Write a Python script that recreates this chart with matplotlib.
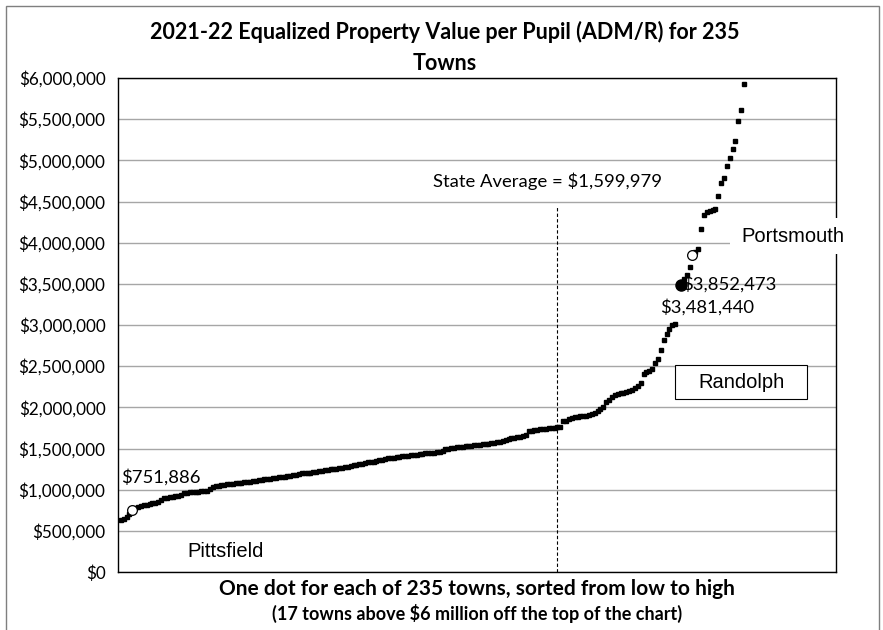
import matplotlib
matplotlib.use("Agg")
import matplotlib.pyplot as plt
from matplotlib.patches import Rectangle
from matplotlib.ticker import FuncFormatter, MultipleLocator

# value per pupil, in thousands of dollars, sorted low to high
# (only the 218 towns under $6 million are shown; 17 more are off the top)
values_k = [
    632, 644, 668, 705, 751.886, 777, 790, 800, 808, 814,
    822, 832, 842, 850, 870, 895, 903, 910, 916, 922,
    928, 940, 955, 962, 966, 970, 972, 975, 978, 981,
    984, 1008, 1035, 1045, 1050, 1055, 1060, 1066, 1070, 1074,
    1077, 1080, 1084, 1088, 1092, 1096, 1102, 1108, 1113, 1118,
    1124, 1130, 1135, 1140, 1145, 1150, 1154, 1159, 1164, 1170,
    1175, 1180, 1190, 1200, 1202, 1204, 1206, 1212, 1220, 1226,
    1232, 1238, 1243, 1248, 1252, 1257, 1262, 1268, 1274, 1280,
    1287, 1294, 1300, 1308, 1316, 1324, 1330, 1336, 1342, 1350,
    1358, 1366, 1374, 1382, 1386, 1390, 1395, 1400, 1405, 1410,
    1414, 1418, 1422, 1427, 1432, 1436, 1440, 1444, 1448, 1451,
    1454, 1457, 1475, 1494, 1500, 1505, 1510, 1514, 1518, 1522,
    1526, 1530, 1534, 1538, 1542, 1546, 1550, 1554, 1558, 1562,
    1567, 1575, 1585, 1595, 1605, 1615, 1625, 1632, 1638, 1644,
    1650, 1660, 1710, 1718, 1724, 1728, 1733, 1738, 1742, 1746,
    1750, 1754, 1760, 1765, 1830, 1840, 1855, 1870, 1880, 1886,
    1890, 1895, 1900, 1905, 1925, 1935, 1950, 1975, 2005, 2070,
    2095, 2120, 2150, 2165, 2172, 2180, 2186, 2200, 2215, 2235,
    2260, 2296, 2410, 2430, 2445, 2470, 2535, 2590, 2700, 2815,
    2890, 2950, 3000, 3010, 3250, 3481.440, 3560, 3607, 3705, 3852.473,
    3890, 3923, 4166, 4336, 4373, 4390, 4400, 4409, 4567, 4725,
    4786, 4932, 5029, 5138, 5235, 5478, 5612, 5927,
]
values = [v * 1000 for v in values_k]
rank = list(range(1, len(values) + 1))

pittsfield_rank, pittsfield_val = 5, 751886
randolph_rank, randolph_val = 196, 3481440
portsmouth_rank, portsmouth_val = 200, 3852473
state_avg = 1599979
avg_line_rank = 153
avg_line_top = 4430000

calibri = ["Lato", "DejaVu Sans"]
arial = ["Liberation Sans", "DejaVu Sans"]

W, H = 883, 630
fig = plt.figure(figsize=(W / 100, H / 100), dpi=100)
fig.patches.append(Rectangle((6 / W, -0.01), 873 / W, 1 - 6 / H + 0.01,
                             transform=fig.transFigure, fill=False,
                             edgecolor="#7f7f7f", lw=1))
ax = fig.add_axes([118 / W, 1 - 572 / H, 718 / W, 494 / H])

ax.plot(rank, values, "s", color="black", ms=2.2, mec="black", zorder=3)
ax.plot(pittsfield_rank, pittsfield_val, "o", ms=7, mfc="white", mec="black", mew=0.9, zorder=4)
ax.plot(portsmouth_rank, portsmouth_val, "o", ms=7, mfc="white", mec="black", mew=0.9, zorder=4)
ax.plot(randolph_rank, randolph_val, "o", ms=8, color="black", zorder=4)
ax.plot([avg_line_rank, avg_line_rank], [0, avg_line_top], color="black",
        lw=0.8, ls=(0, (3, 2)), zorder=2)

ax.set_xlim(0, 250)
ax.set_ylim(0, 6000000)
ax.yaxis.set_major_locator(MultipleLocator(500000))
ax.yaxis.set_major_formatter(FuncFormatter(lambda v, p: "${:,.0f}".format(v)))
ax.grid(axis="y", color="#a6a6a6", lw=1)
ax.set_axisbelow(True)
ax.set_xticks([])
ax.tick_params(axis="y", length=0, pad=9)
for lab in ax.get_yticklabels():
    lab.set_family(calibri)
    lab.set_fontsize(12.3)
for s in ax.spines.values():
    s.set_color("black")
    s.set_linewidth(1)

ax.text(pittsfield_rank - 4, 1150000, "$751,886", family=calibri,
        fontsize=13.3, va="center", ha="left")
ax.text(24, 255000, "Pittsfield", family=arial, fontsize=14.5, va="center", ha="left")
ax.text(109.7, 4750000, "State Average = ${:,}".format(state_avg),
        family=calibri, fontsize=13.3, va="center", ha="left")
ax.text(randolph_rank + 0.5, 3500000, "$3,852,473", family=calibri,
        fontsize=13.3, va="center", ha="left", zorder=3)
ax.text(188.7, 3220000, "$3,481,440", family=calibri, fontsize=13.3, va="center",
        ha="left", zorder=5, bbox=dict(fc="white", ec="none", pad=0.5))

# Randolph label box
fig.patches.append(Rectangle((675 / W, 1 - 399 / H), 132 / W, 34 / H,
                             transform=fig.transFigure, fc="white",
                             ec="black", lw=0.8, zorder=5))
fig.text(741 / W, 1 - 382 / H, "Randolph", family=arial, fontsize=14.5,
         va="center", ha="center", zorder=6)

# Portsmouth label sits on a white box that covers the plot edge
fig.patches.append(Rectangle((730 / W, 1 - 254 / H), 122 / W, 36 / H,
                             transform=fig.transFigure, fc="white",
                             ec="none", zorder=5))
fig.text(741 / W, 1 - 236 / H, "Portsmouth", family=arial, fontsize=14.5,
         va="center", ha="left", zorder=6)

fig.text(445 / W, 1 - 32 / H, "2021-22 Equalized Property Value per Pupil (ADM/R) for 235",
         family=calibri, fontsize=15.5, weight="bold", ha="center", va="center")
fig.text(445 / W, 1 - 63 / H, "Towns", family=calibri, fontsize=15.5,
         weight="bold", ha="center", va="center")
fig.text(477 / W, 1 - 589 / H, "One dot for each of 235 towns, sorted from low to high",
         family=calibri, fontsize=15, weight="bold", ha="center", va="center")
fig.text(477 / W, 1 - 613 / H, "(17 towns above $6 million off the top of the chart)",
         family=calibri, fontsize=13, weight="bold", ha="center", va="center")

fig.savefig("out.png", dpi=100)
